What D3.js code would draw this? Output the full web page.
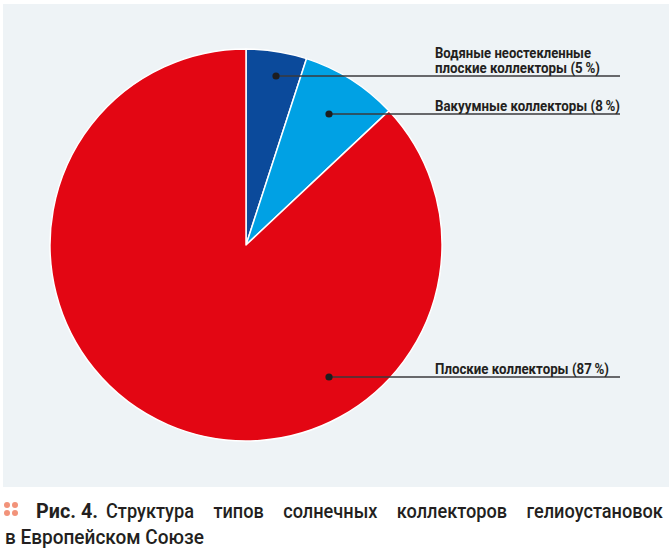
<!DOCTYPE html>
<html><head><meta charset="utf-8">
<script src="https://cdn.jsdelivr.net/npm/d3@7"></script>
<style>
body{margin:0;background:#fff;}
svg{display:block;}
.lbl{font-family:"Roboto","DejaVu Sans",sans-serif;font-weight:bold;font-size:14px;fill:#231f20;}
.cap{font-family:"Roboto","DejaVu Sans",sans-serif;font-size:20px;fill:#231f20;}
</style></head>
<body>
<script>
const categories = ["Водяные неостекленные плоские коллекторы", "Вакуумные коллекторы", "Плоские коллекторы"];
const values = [5, 8, 87];
const labelLines = [["Водяные неостекленные", "плоские коллекторы (5\u2009%)"], ["Вакуумные коллекторы (8\u2009%)"], ["Плоские коллекторы (87\u2009%)"]];
const colors = ["#0b4a9b", "#00a1e4", "#e30613"];
const captionBold = "Рис. 4.";
const captionLine1 = ["Структура", "типов", "солнечных", "коллекторов", "гелиоустановок"];
const captionLine2 = "в Европейском Союзе";

const W = 669, H = 553;
const svg = d3.select("body").append("svg").attr("width", W).attr("height", H);
svg.append("rect").attr("x", 3).attr("y", 4).attr("width", W - 3).attr("height", 483).attr("fill", "#eef3f6");

const cx = 246, cy = 245, R = 196;
const pie = d3.pie().sort(null).value(d => d)(values);
const arc = d3.arc().innerRadius(0).outerRadius(R);
const g = svg.append("g").attr("transform", `translate(${cx},${cy})`);
g.selectAll("path").data(pie).join("path")
  .attr("d", arc).attr("fill", (d, i) => colors[i])
  .attr("stroke", "#fff").attr("stroke-width", 1.5).attr("stroke-linejoin", "round");

// leader lines: dots & label positions
const dotPos = [[276, 76], [329, 114], [329, 377]];
const labelWidths = [[156, 165], [185], [174]];
const lineEnd = 620, textX = 435;
dotPos.forEach((p, i) => {
  svg.append("line").attr("x1", p[0]).attr("y1", p[1]).attr("x2", lineEnd).attr("y2", p[1])
    .attr("stroke", "#3a3a3c").attr("stroke-width", 1.4);
  svg.append("circle").attr("cx", p[0]).attr("cy", p[1]).attr("r", 3.6).attr("fill", "#1d1d1f");
  const lines = labelLines[i];
  lines.forEach((t, j) => {
    svg.append("text").attr("class", "lbl").attr("x", textX)
      .attr("y", p[1] - 3.5 - (lines.length - 1 - j) * 14.5)
      .attr("textLength", labelWidths[i][j]).attr("lengthAdjust", "spacingAndGlyphs").text(t);
  });
});

// caption helper: scaled text to a given width
function fitText(parent, str, x, y, width, weight) {
  const gg = parent.append("g");
  const t = gg.append("text").attr("class", "cap").attr("font-weight", weight).text(str);
  const w = t.node().getComputedTextLength();
  gg.attr("transform", `translate(${x},${y}) scale(${width / w},1)`);
  return w;
}
[[7,505],[15,505],[7,513],[15,513]].forEach(d =>
  svg.append("circle").attr("cx", d[0]).attr("cy", d[1]).attr("r", 3).attr("fill", "#f2937a"));
fitText(svg, captionBold, 36, 517.5, 62, "bold");
const startX = 106, endX = 663;
// measure natural widths
const tmp = svg.append("text").attr("class", "cap").attr("font-weight", "500");
const natural = captionLine1.map(w => { tmp.text(w); return tmp.node().getComputedTextLength(); });
tmp.remove();
const k = 88 / natural[0];
const widths = natural.map(w => w * k);
const gap = (endX - startX - d3.sum(widths)) / (widths.length - 1);
let x = startX;
captionLine1.forEach((w, i) => { fitText(svg, w, x, 517.5, widths[i], "500"); x += widths[i] + gap; });
fitText(svg, captionLine2, 5, 544, 199, "500");
</script>
</body></html>
